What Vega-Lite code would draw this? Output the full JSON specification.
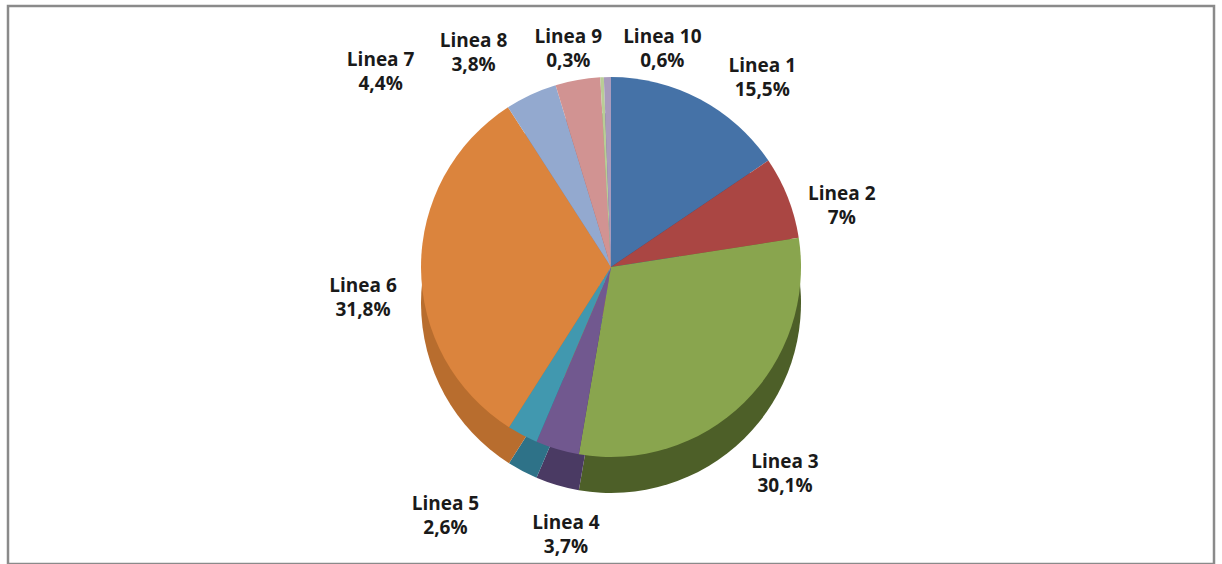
{
  "$schema": "https://vega.github.io/schema/vega-lite/v6.json",
  "autosize": {"type": "fit", "contains": "padding"},
  "width": 1222,
  "height": 564,
  "padding": {"left": 8, "top": 6, "right": 8, "bottom": 0},
  "background": "white",
  "view": {"stroke": "#8a8a8a", "strokeWidth": 2.5},
  "config": {"view": {"stroke": "#8a8a8a", "strokeWidth": 2.5}},
  "data": {
    "values": [
      {"linea": "Linea 1", "idx": 1, "pct": 15.5, "txt": "Linea 1\n15,5%"},
      {"linea": "Linea 2", "idx": 2, "pct": 7.0, "txt": "Linea 2\n7%"},
      {"linea": "Linea 3", "idx": 3, "pct": 30.1, "txt": "Linea 3\n30,1%"},
      {"linea": "Linea 4", "idx": 4, "pct": 3.7, "txt": "Linea 4\n3,7%"},
      {"linea": "Linea 5", "idx": 5, "pct": 2.6, "txt": "Linea 5\n2,6%"},
      {"linea": "Linea 6", "idx": 6, "pct": 31.8, "txt": "Linea 6\n31,8%"},
      {"linea": "Linea 7", "idx": 7, "pct": 4.4, "txt": "Linea 7\n4,4%"},
      {"linea": "Linea 8", "idx": 8, "pct": 3.8, "txt": "Linea 8\n3,8%"},
      {"linea": "Linea 9", "idx": 9, "pct": 0.3, "txt": "Linea 9\n0,3%"},
      {"linea": "Linea 10", "idx": 10, "pct": 0.6, "txt": "Linea 10\n0,6%"}
    ]
  },
  "encoding": {
    "theta": {"field": "pct", "type": "quantitative", "stack": true},
    "order": {"field": "idx", "type": "quantitative"}
  },
  "layer": [
    {
      "mark": {"type": "arc", "outerRadius": 190, "yOffset": 18},
      "encoding": {
        "color": {
          "field": "linea", "type": "nominal", "legend": null,
          "scale": {
            "domain": ["Linea 1","Linea 2","Linea 3","Linea 4","Linea 5","Linea 6","Linea 7","Linea 8","Linea 9","Linea 10"],
            "range": ["#2f4f7a","#7d2f2e","#4d5f28","#4a3a63","#2e7288","#b86d2e","#6b7fa3","#a06666","#8aa060","#7a6a99"]
          }
        }
      }
    },
    {
      "mark": {"type": "arc", "outerRadius": 190, "yOffset": -18},
      "encoding": {
        "color": {
          "field": "linea", "type": "nominal", "legend": null,
          "scale": {
            "domain": ["Linea 1","Linea 2","Linea 3","Linea 4","Linea 5","Linea 6","Linea 7","Linea 8","Linea 9","Linea 10"],
            "range": ["#4572a7","#aa4643","#89a54e","#71588f","#4198af","#db843d","#93a9cf","#d19392","#b9cd96","#a99bbd"]
          }
        }
      }
    },
    {
      "mark": {"type": "text", "radius": 248, "font": "Open Sans", "fontSize": 19, "fontWeight": "bold", "lineBreak": "\n", "lineHeight": 24, "fill": "#1a1a1a"},
      "encoding": {
        "text": {"condition": {"test": "indexof(['Linea 1','Linea 4','Linea 5','Linea 7','Linea 8','Linea 9','Linea 10'], datum.linea) < 0", "field": "txt"}, "value": ""}
      }
    },
    {
      "mark": {"type": "text", "radius": 248, "dx": 35, "font": "Open Sans", "fontSize": 19, "fontWeight": "bold", "lineBreak": "\n", "lineHeight": 24, "fill": "#1a1a1a"},
      "encoding": {
        "text": {"condition": {"test": "datum.linea === 'Linea 1'", "field": "txt"}, "value": ""}
      }
    },
    {
      "mark": {"type": "text", "radius": 248, "dx": 25, "font": "Open Sans", "fontSize": 19, "fontWeight": "bold", "lineBreak": "\n", "lineHeight": 24, "fill": "#1a1a1a"},
      "encoding": {
        "text": {"condition": {"test": "datum.linea === 'Linea 4'", "field": "txt"}, "value": ""}
      }
    },
    {
      "mark": {"type": "text", "radius": 248, "dx": -50, "font": "Open Sans", "fontSize": 19, "fontWeight": "bold", "lineBreak": "\n", "lineHeight": 24, "fill": "#1a1a1a"},
      "encoding": {
        "text": {"condition": {"test": "datum.linea === 'Linea 5'", "field": "txt"}, "value": ""}
      }
    },
    {
      "mark": {"type": "text", "radius": 248, "dx": -126, "font": "Open Sans", "fontSize": 19, "fontWeight": "bold", "lineBreak": "\n", "lineHeight": 24, "fill": "#1a1a1a"},
      "encoding": {
        "text": {"condition": {"test": "datum.linea === 'Linea 7'", "field": "txt"}, "value": ""}
      }
    },
    {
      "mark": {"type": "text", "radius": 248, "dx": -94, "font": "Open Sans", "fontSize": 19, "fontWeight": "bold", "lineBreak": "\n", "lineHeight": 24, "fill": "#1a1a1a"},
      "encoding": {
        "text": {"condition": {"test": "datum.linea === 'Linea 8'", "field": "txt"}, "value": ""}
      }
    },
    {
      "mark": {"type": "text", "radius": 248, "dx": -31, "font": "Open Sans", "fontSize": 19, "fontWeight": "bold", "lineBreak": "\n", "lineHeight": 24, "fill": "#1a1a1a"},
      "encoding": {
        "text": {"condition": {"test": "datum.linea === 'Linea 9'", "field": "txt"}, "value": ""}
      }
    },
    {
      "mark": {"type": "text", "radius": 248, "dx": 56, "font": "Open Sans", "fontSize": 19, "fontWeight": "bold", "lineBreak": "\n", "lineHeight": 24, "fill": "#1a1a1a"},
      "encoding": {
        "text": {"condition": {"test": "datum.linea === 'Linea 10'", "field": "txt"}, "value": ""}
      }
    }
  ],
  "resolve": {"scale": {"color": "independent"}}
}
